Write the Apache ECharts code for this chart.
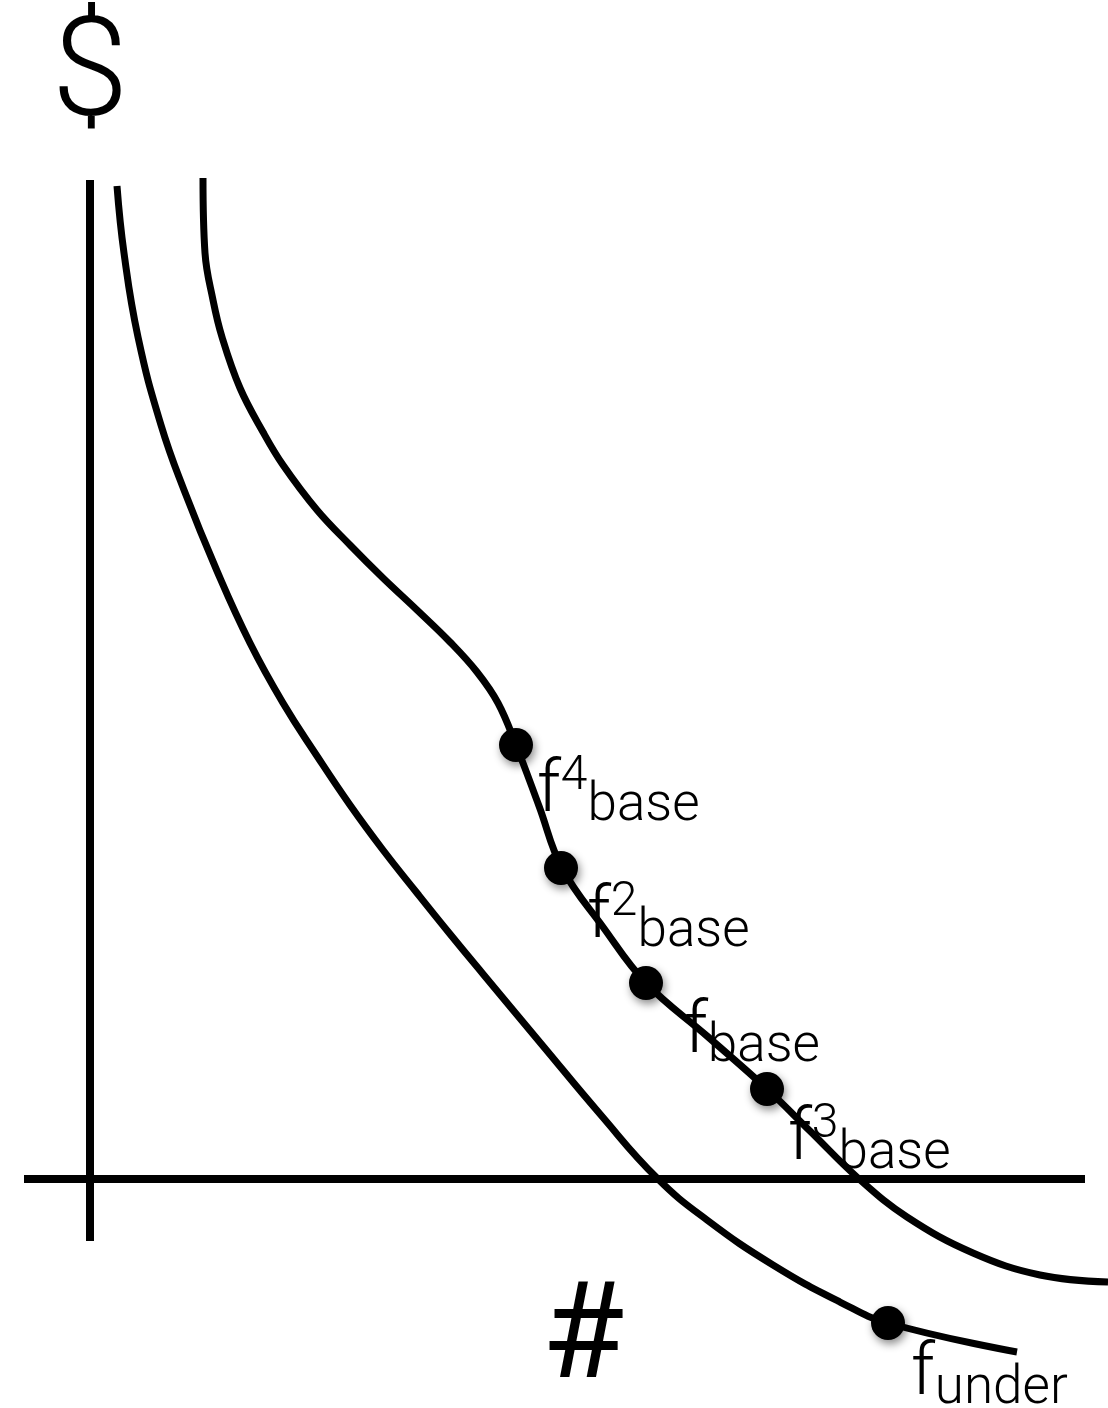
<!DOCTYPE html>
<html>
<head>
<meta charset="utf-8">
<script src="https://cdn.jsdelivr.net/npm/echarts@6/dist/echarts.min.js"></script>
<style>
  html, body { margin: 0; padding: 0; background: #ffffff; }
  #chart { width: 1108px; height: 1408px; }
</style>
</head>
<body>
<div id="chart"></div>
<script>
// Quantity (#) on x, price ($) on y; origin where the two axes cross.

// Lower demand curve (f_under)
const underX = [27, 34, 48, 71, 94, 127, 160, 193, 227, 260, 293, 327, 360, 393, 453, 510, 567, 617, 683, 750, 798, 927];
const underY = [993, 926, 842, 754, 689, 608, 536, 476, 423, 374, 329, 286, 245, 205, 133, 65, 1, -41, -86, -123, -144, -173];

// Upper demand curve carrying the base variants
const baseX = [113, 115, 123, 132, 150, 173, 193, 227, 260, 293, 327, 360, 387, 408, 426, 449, 472, 513, 556, 617, 677, 720, 768, 817, 883, 950, 1018];
const baseY = [1001, 926, 879, 842, 791, 747, 714, 669, 634, 601, 569, 537, 507, 476, 434, 373, 311, 252, 196, 143, 90, 48, 1, -38, -74, -96, -103];

// Marked points and their labels
const pointSym = ['f', 'f', 'f', 'f', 'f'];
const pointSup = ['4', '2', '', '3', ''];
const pointSub = ['base', 'base', 'base', 'base', 'under'];
const pointX = [426, 471, 556, 677, 798];
const pointY = [434, 311, 196, 90, -144];

// Axis extents
const hAxisX = [-66, 995];
const vAxisY = [999, -62];

// label placement relative to each dot (pixels)
const labelOffsets = [[21, 48], [26, 51], [38, 51], [21, 52], [23, 53]];

const FONT = 'Roboto, "Liberation Sans", sans-serif';

const chart = echarts.init(document.getElementById('chart'), null, { renderer: 'canvas' });

const zip = (xs, ys) => xs.map((x, i) => [x, ys[i]]);

const curveStyle = { color: '#000', width: 7, cap: 'butt', join: 'round' };

const pointData = pointX.map((x, i) => {
  const sup = pointSup[i] ? '{sup|' + pointSup[i] + '}' : '';
  return {
    value: [x, pointY[i]],
    label: {
      offset: labelOffsets[i],
      formatter: '{f|' + pointSym[i] + '}' + sup + '{sub|' + pointSub[i] + '}'
    }
  };
});

chart.setOption({
  animation: false,
  backgroundColor: '#ffffff',
  grid: { left: 0, right: 0, top: 0, bottom: 0 },
  xAxis: { type: 'value', min: -90, max: 1018, show: false },
  yAxis: { type: 'value', min: -229, max: 1179, show: false },
  graphic: [
    {
      type: 'text', x: 90, y: 80, z: 10,
      style: { text: '$', fill: '#000', font: '300 138px ' + FONT, textAlign: 'center', textVerticalAlign: 'middle' }
    },
    {
      type: 'text', x: 583, y: 1343, z: 10,
      style: { text: '#', fill: '#000', font: '400 134px ' + FONT, textAlign: 'center', textVerticalAlign: 'middle' }
    }
  ],
  series: [
    {
      type: 'line', name: 'quantity axis', data: zip(hAxisX, [0, 0]),
      symbol: 'none', silent: true,
      lineStyle: { color: '#000', width: 8, cap: 'butt' }
    },
    {
      type: 'line', name: 'price axis', data: zip([0, 0], vAxisY),
      symbol: 'none', silent: true,
      lineStyle: { color: '#000', width: 8, cap: 'butt' }
    },
    {
      type: 'line', name: 'under', data: zip(underX, underY),
      symbol: 'none', smooth: 0.45, clip: false,
      lineStyle: curveStyle
    },
    {
      type: 'line', name: 'base', data: zip(baseX, baseY),
      symbol: 'none', smooth: 0.4, clip: false,
      lineStyle: curveStyle
    },
    {
      type: 'scatter', name: 'points', data: pointData, z: 5,
      symbol: 'circle', symbolSize: 34,
      itemStyle: {
        color: '#000', opacity: 1,
        shadowColor: 'rgba(0,0,0,0.45)', shadowBlur: 8, shadowOffsetX: 2, shadowOffsetY: 4
      },
      label: {
        show: true, position: 'inside', align: 'left', verticalAlign: 'middle',
        color: '#000',
        rich: {
          f: { fontFamily: FONT, fontWeight: 300, fontSize: 72, lineHeight: 80, color: '#000', verticalAlign: 'middle' },
          sup: { fontFamily: FONT, fontWeight: 300, fontSize: 48, lineHeight: 66, color: '#000', verticalAlign: 'top' },
          sub: { fontFamily: FONT, fontWeight: 300, fontSize: 53, lineHeight: 46, color: '#000', verticalAlign: 'bottom' }
        }
      }
    }
  ]
});
</script>
</body>
</html>
